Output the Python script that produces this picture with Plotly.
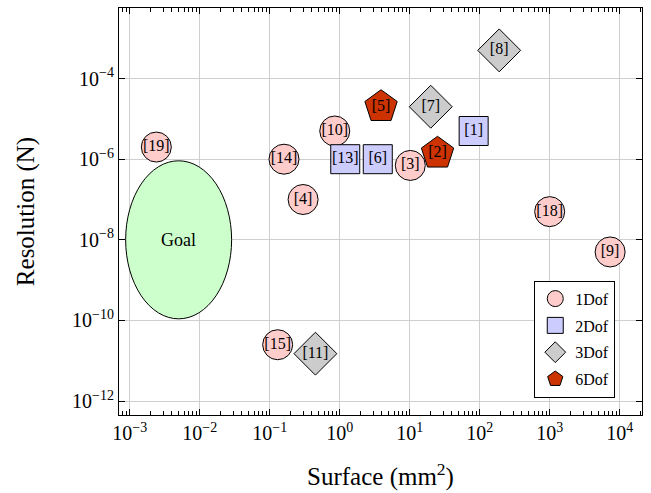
import math
import plotly.graph_objects as go

# ---- data ----
dof1_labels = ["[19]", "[14]", "[10]", "[4]", "[3]", "[18]", "[9]", "[15]"]
dof1_x = [0.0024, 0.16, 0.85, 0.30, 10.2, 1000, 7300, 0.13]
dof1_y = [2.0e-6, 1.0e-6, 5.0e-6, 1.0e-7, 7.0e-7, 5.0e-8, 5.0e-9, 2.5e-11]

dof2_labels = ["[13]", "[6]", "[1]"]
dof2_x = [1.2, 3.5, 82]
dof2_y = [1.0e-6, 1.0e-6, 5.0e-6]

dof3_labels = ["[8]", "[7]", "[11]"]
dof3_x = [190, 20, 0.45]
dof3_y = [5.0e-4, 2.0e-5, 1.5e-11]

dof6_labels = ["[5]", "[2]"]
dof6_x = [3.9, 25]
dof6_y = [2.0e-5, 1.4e-6]

goal_label = "Goal"
goal_center = (0.005, 1e-8)     # surface, resolution
goal_half_decades = (0.757, 1.96)  # ellipse half-extent in decades (x, y)

x_tickvals = [1e-3, 1e-2, 1e-1, 1e0, 1e1, 1e2, 1e3, 1e4]
x_ticktext = ["10<sup>−3</sup>", "10<sup>−2</sup>", "10<sup>−1</sup>", "10<sup>0</sup>",
              "10<sup>1</sup>", "10<sup>2</sup>", "10<sup>3</sup>", "10<sup>4</sup>"]
y_tickvals = [1e-12, 1e-10, 1e-8, 1e-6, 1e-4]
y_ticktext = ["10<sup>−12</sup>", "10<sup>−10</sup>", "10<sup>−8</sup>", "10<sup>−6</sup>", "10<sup>−4</sup>"]

SERIF = "Liberation Serif"

series = [
    ("1Dof", dof1_labels, dof1_x, dof1_y, "circle", 30, "#FFCCCC"),
    ("2Dof", dof2_labels, dof2_x, dof2_y, "square", 29, "#CCCCFF"),
    ("3Dof", dof3_labels, dof3_x, dof3_y, "diamond", 33, "#CCCCCC"),
    ("6Dof", dof6_labels, dof6_x, dof6_y, "pentagon", 34, "#CC3300"),
]

fig = go.Figure()
for i, (name, labels, xs, ys, sym, size, color) in enumerate(series):
    fig.add_trace(go.Scatter(
        x=xs, y=ys, mode="markers", name=name, legendgroup=f"g{i}",
        marker=dict(symbol=sym, size=size, color=color,
                    line=dict(color="black", width=1)),
    ))
for i, (name, labels, xs, ys, sym, size, color) in enumerate(series):
    fig.add_trace(go.Scatter(
        x=xs, y=ys, mode="text", text=labels, showlegend=False,
        textposition="middle center",
        textfont=dict(family=SERIF, size=16, color="black"),
        hoverinfo="skip",
    ))

gx, gy = goal_center
hx, hy = goal_half_decades
fig.add_shape(type="circle", xref="x", yref="y",
              x0=10 ** (math.log10(gx) - hx), x1=10 ** (math.log10(gx) + hx),
              y0=10 ** (math.log10(gy) - hy), y1=10 ** (math.log10(gy) + hy),
              fillcolor="#CCFFCC", line=dict(color="black", width=1), layer="above")
fig.add_annotation(x=math.log10(gx), y=math.log10(gy), xref="x", yref="y",
                   text=goal_label, showarrow=False,
                   font=dict(family=SERIF, size=18, color="black"))

axis_common = dict(
    type="log", showline=True, linecolor="black", linewidth=1, mirror="ticks",
    ticks="inside", ticklen=6, tickcolor="black", tickwidth=1,
    showgrid=True, gridcolor="#CFCFCF", gridwidth=1, zeroline=False,
    tickfont=dict(family=SERIF, size=20, color="black"),
    tickmode="array",
)

fig.update_layout(
    width=651, height=493,
    margin=dict(l=119, r=9, t=7, b=76),
    paper_bgcolor="white", plot_bgcolor="white",
    showlegend=True,
    legend=dict(x=0.794, y=0.33, xanchor="left", yanchor="top",
                bgcolor="white", bordercolor="black", borderwidth=1,
                font=dict(family=SERIF, size=16, color="black"),
                tracegroupgap=3, itemsizing="trace"),
    xaxis=dict(axis_common, range=[-3.153, 4.319],
               tickvals=x_tickvals, ticktext=x_ticktext,
               minor=dict(ticks="inside", ticklen=4, tickcolor="black", dtick="D1", showgrid=False),
               title=dict(text="Surface (mm<sup>2</sup>)", standoff=24,
                          font=dict(family=SERIF, size=25, color="black"))),
    yaxis=dict(axis_common, range=[-12.345, -2.25],
               tickvals=y_tickvals, ticktext=y_ticktext,
               title=dict(text="Resolution (N)", standoff=30,
                          font=dict(family=SERIF, size=25, color="black"))),
)

fig.write_html("out.html")
